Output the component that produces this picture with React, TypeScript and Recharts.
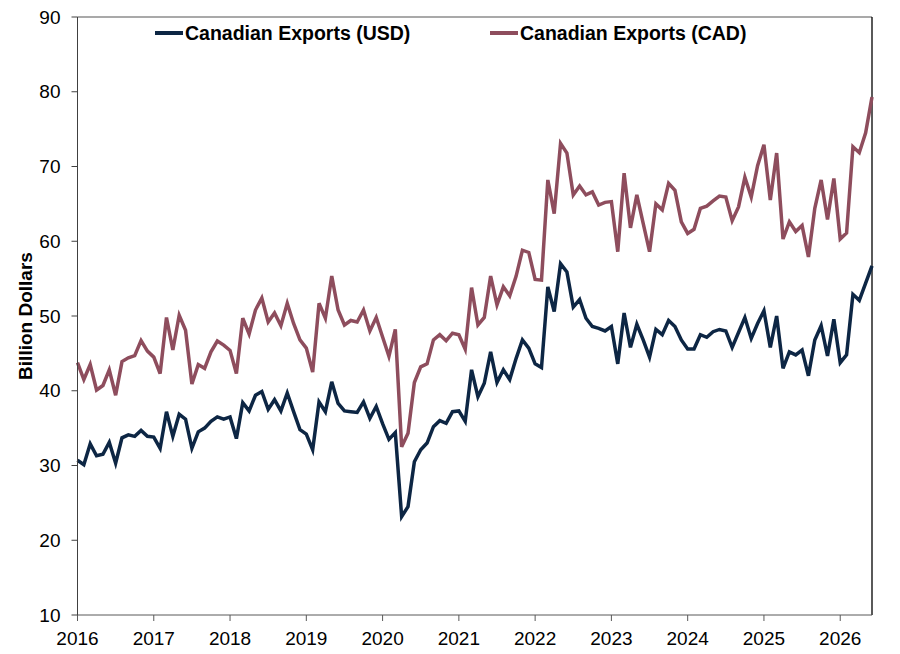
import React from 'react';
import { LineChart, Line, XAxis, YAxis, Legend, ReferenceLine } from 'recharts';

const usdExports = [
  30.7, 30.1, 32.9, 31.3, 31.5, 33.1, 30.3, 33.7, 34.1, 33.9, 34.7, 33.9,
  33.8, 32.3, 37.2, 33.9, 36.85, 36.2, 32.3, 34.5, 35.0, 35.9, 36.5, 36.2,
  36.5, 33.6, 38.4, 37.3, 39.4, 39.9, 37.5, 38.8, 37.3, 39.7, 37.2, 34.8,
  34.2, 32.1, 38.5, 37.2, 41.2, 38.3, 37.3, 37.2, 37.1, 38.5, 36.3, 37.9,
  35.6, 33.5, 34.4, 23.15, 24.5, 30.5, 32.1, 33.0, 35.2, 36.0, 35.65, 37.2,
  37.3, 35.9, 42.8, 39.2, 41.0, 45.2, 41.1, 42.8, 41.5, 44.3, 46.8, 45.7,
  43.6, 43.1, 53.9, 50.6, 57.0, 55.9, 51.2, 52.2, 49.7, 48.6, 48.35, 48.0,
  48.6, 43.6, 50.4, 45.8, 48.9, 46.8, 44.5, 48.2, 47.5, 49.4, 48.6, 46.8,
  45.6, 45.6, 47.5, 47.15, 47.9, 48.2, 48.0, 45.8, 47.8, 49.8, 47.0, 49.0,
  50.7, 45.8, 50.0, 43.0, 45.2, 44.8, 45.45, 42.0, 46.8, 48.7, 44.65, 49.55,
  43.75, 44.8, 52.9, 52.1, 54.4, 56.7,
];

const cadExports = [
  43.75, 41.5, 43.5, 40.1, 40.7, 42.8, 39.4, 43.9, 44.4, 44.7, 46.7, 45.3,
  44.5, 42.3, 49.8, 45.45, 50.1, 48.1, 40.9, 43.5, 43.0, 45.2, 46.65, 46.1,
  45.4, 42.3, 49.7, 47.6, 50.8, 52.4, 49.2, 50.4, 48.7, 51.7, 49.0, 46.8,
  45.7, 42.5, 51.7, 49.7, 55.35, 50.8, 48.8, 49.4, 49.2, 50.8, 48.0, 49.8,
  47.2, 44.6, 48.2, 32.5, 34.3, 41.1, 43.2, 43.6, 46.8, 47.5, 46.7, 47.7,
  47.5, 45.55, 53.8, 48.8, 49.8, 55.35, 51.5, 53.9, 52.7, 55.3, 58.8, 58.5,
  54.9, 54.8, 68.2, 63.7, 73.1, 71.8, 66.2, 67.4, 66.2, 66.6, 64.85, 65.2,
  65.3, 58.6, 69.1, 61.8, 66.2, 62.4, 58.6, 65.0, 64.2, 67.75, 66.8, 62.6,
  61.05, 61.6, 64.4, 64.7, 65.4, 66.05, 65.9, 62.75, 64.6, 68.55, 65.9, 70.1,
  72.9, 65.5, 71.8, 60.3, 62.6, 61.3, 62.1, 57.9, 64.4, 68.2, 62.9, 68.4,
  60.3, 61.1, 72.65, 71.85, 74.5, 79.3,
];

const startYear = 2016;
const yearTicks = [2016, 2017, 2018, 2019, 2020, 2021, 2022, 2023, 2024, 2025, 2026];
const valueTicks = [10, 20, 30, 40, 50, 60, 70, 80, 90];
const seriesNames = ['Canadian Exports (USD)', 'Canadian Exports (CAD)'];

const USD_COLOR = '#0D2644';
const CAD_COLOR = '#8E4D5D';
const FONT = '"Liberation Sans", Arial, sans-serif';

const data = usdExports.map((v, i) => ({
  t: startYear + i / 12,
  usd: v,
  cad: cadExports[i],
}));
const xMax = startYear + (usdExports.length - 1) / 12;

const LegendContent = () => {
  const items = [
    { name: seriesNames[0], color: USD_COLOR, left: 147 },
    { name: seriesNames[1], color: CAD_COLOR, left: 482 },
  ];
  return (
    <div style={{ position: 'relative', width: 884, height: 30 }}>
      {items.map((it) => (
        <div
          key={it.name}
          style={{
            position: 'absolute',
            left: it.left,
            top: 0,
            height: 30,
            display: 'flex',
            alignItems: 'center',
            fontFamily: FONT,
            fontWeight: 'bold',
            fontSize: 19.5,
            color: '#000',
            whiteSpace: 'nowrap',
          }}
        >
          <span style={{ display: 'inline-block', width: 28, height: 4, background: it.color, marginRight: 2 }} />
          <span>{it.name}</span>
        </div>
      ))}
    </div>
  );
};

const YLabel = (props: any) => {
  const vb = props.viewBox || { x: 0, y: 0, width: 0, height: 0 };
  const cx = vb.x + 17;
  const cy = vb.y + vb.height / 2;
  return (
    <text
      x={cx}
      y={cy}
      transform={`rotate(-90, ${cx}, ${cy})`}
      textAnchor="middle"
      dominantBaseline="central"
      fontFamily={FONT}
      fontWeight="bold"
      fontSize={19}
      fill="#000"
    >
      Billion Dollars
    </text>
  );
};

export default function App() {
  return (
    <div style={{ width: 884, height: 646 }}>
      <LineChart width={884} height={646} data={data} margin={{ top: 9, right: 20, left: 0, bottom: 0 }}>
        <XAxis
          dataKey="t"
          type="number"
          domain={[startYear, xMax]}
          ticks={yearTicks}
          allowDecimals={false}
          height={39}
          tickSize={6}
          tickMargin={11}
          stroke="#595959"
          tick={{ fill: '#000', fontSize: 19, fontFamily: FONT }}
          interval={0}
        />
        <YAxis
          type="number"
          domain={[10, 90]}
          ticks={valueTicks}
          width={69.5}
          tickSize={6}
          tickMargin={11}
          stroke="#404040"
          tick={{ fill: '#000', fontSize: 19, fontFamily: FONT }}
          interval={0}
          label={{ content: YLabel }}
        />
        <ReferenceLine y={90} stroke="#8c8c8c" strokeWidth={1.5} />
        <ReferenceLine x={xMax} stroke="#000" strokeWidth={1.3} />
        <Legend
          layout="horizontal"
          verticalAlign="middle"
          align="center"
          content={<LegendContent />}
          wrapperStyle={{ top: 10, left: 0, width: 884, height: 30 }}
        />
        <Line
          type="linear"
          dataKey="usd"
          name={seriesNames[0]}
          stroke={USD_COLOR}
          strokeWidth={3.5}
          dot={false}
          activeDot={false}
          isAnimationActive={false}
        />
        <Line
          type="linear"
          dataKey="cad"
          name={seriesNames[1]}
          stroke={CAD_COLOR}
          strokeWidth={3.5}
          dot={false}
          activeDot={false}
          isAnimationActive={false}
        />
      </LineChart>
    </div>
  );
}
